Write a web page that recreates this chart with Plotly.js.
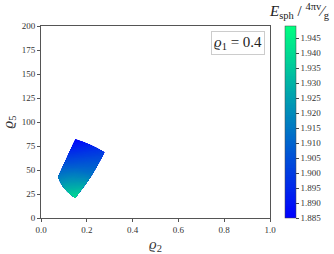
<!DOCTYPE html>
<html><head><meta charset="utf-8">
<script src="https://cdn.plot.ly/plotly-3.0.1.min.js"></script>
<style>html,body{margin:0;padding:0;background:#fff}#c{width:334px;height:254px}</style>
</head><body><div id="c"></div>
<script>
// carpet parameters (a, b) of the sampled patch
var paramA = [0, 0.5, 1];
var paramB = [0, 0.5, 1];
// rho2 / rho5 coordinates of the sample points, rows by b
var rho2Grid = [
  [0.149, 0.221, 0.277],
  [0.104, 0.161, 0.213],
  [0.074, 0.112, 0.150]
];
var rho5Grid = [
  [20.9, 44.4, 68.4],
  [30.2, 53.2, 76.5],
  [42.8, 62.6, 82.4]
];
// E_sph / (4 pi v / g) at those points
var energyGrid = [
  [1.941, 1.915, 1.900],
  [1.929, 1.909, 1.893],
  [1.916, 1.901, 1.886]
];
var cbTicks = [1.885,1.890,1.895,1.900,1.905,1.910,1.915,1.920,1.925,1.930,1.935,1.940,1.945];
var zMin = 1.885, zMax = 1.949;

var serif = 'Liberation Serif, DejaVu Serif, serif';
var hiddenAxis = {showgrid:false, showline:false, showticklabels:'none', startline:false, endline:false, minorgridcount:0, gridwidth:0, linewidth:0, smoothing:0.9};
var winter = [[0,'rgb(0,0,255)'],[1,'rgb(0,255,128)']];

var traces = [
  {type:'carpet', carpet:'c1', a:paramA, b:paramB, x:rho2Grid, y:rho5Grid,
   aaxis:hiddenAxis, baxis:hiddenAxis},
  {type:'contourcarpet', carpet:'c1', a:paramA, b:paramB, z:energyGrid,
   autocontour:false, contours:{start:zMin, end:zMax, size:0.0008, coloring:'fill', showlines:false},
   line:{width:0}, colorscale:winter, zauto:false, zmin:zMin, zmax:zMax,
   colorbar:{x:1.064, xanchor:'left', xpad:0, ypad:0, len:1, y:0.5, yanchor:'middle', thickness:11,
     outlinewidth:0.5, outlinecolor:'#444', ticks:'outside', ticklen:3, tickcolor:'#444',
     tickvals:cbTicks, ticktext:cbTicks.map(function(v){return v.toFixed(3);}),
     tickfont:{family:serif, size:9, color:'#333'}}}
];

var layout = {
  width:334, height:254, margin:{l:41, r:59, t:26, b:36},
  paper_bgcolor:'#fff', plot_bgcolor:'#fff', showlegend:false,
  font:{family:serif, color:'#333'},
  xaxis:{range:[0,1], tickvals:[0,0.2,0.4,0.6,0.8,1.0], ticktext:['0.0','0.2','0.4','0.6','0.8','1.0'],
    showgrid:false, zeroline:false, showline:true, mirror:true, linecolor:'#555', linewidth:1,
    ticks:'outside', ticklen:3, tickcolor:'#555', tickfont:{family:serif, size:9, color:'#333'},
    title:{text:'<i>ϱ</i><sub>2</sub>', font:{family:serif, size:15, color:'#333'}, standoff:5}},
  yaxis:{range:[0,200], tickvals:[0,25,50,75,100,125,150,175,200],
    showgrid:false, zeroline:false, showline:true, mirror:true, linecolor:'#555', linewidth:1,
    ticks:'outside', ticklen:3, tickcolor:'#555', tickfont:{family:serif, size:9, color:'#333'},
    title:{text:'<i>ϱ</i><sub>5</sub>', font:{family:serif, size:15, color:'#333'}, standoff:5}},
  annotations:[
    {xref:'paper', yref:'paper', x:0.86, y:0.911, xanchor:'center', yanchor:'middle', showarrow:false,
     text:'<i>ϱ</i><sub>1</sub> = 0.4', font:{family:serif, size:15, color:'#222'},
     bordercolor:'#ccc', borderwidth:1, borderpad:2, bgcolor:'#fff'},
    {xref:'paper', yref:'paper', x:1.13, y:1.078, xanchor:'center', yanchor:'middle', showarrow:false,
     text:'<i>E</i><sub>sph</sub> / <sup>4πv</sup>⁄<sub>g</sub>', font:{family:serif, size:15, color:'#222'}}
  ]
};
Plotly.newPlot('c', traces, layout, {displayModeBar:false, staticPlot:true});
</script></body></html>
